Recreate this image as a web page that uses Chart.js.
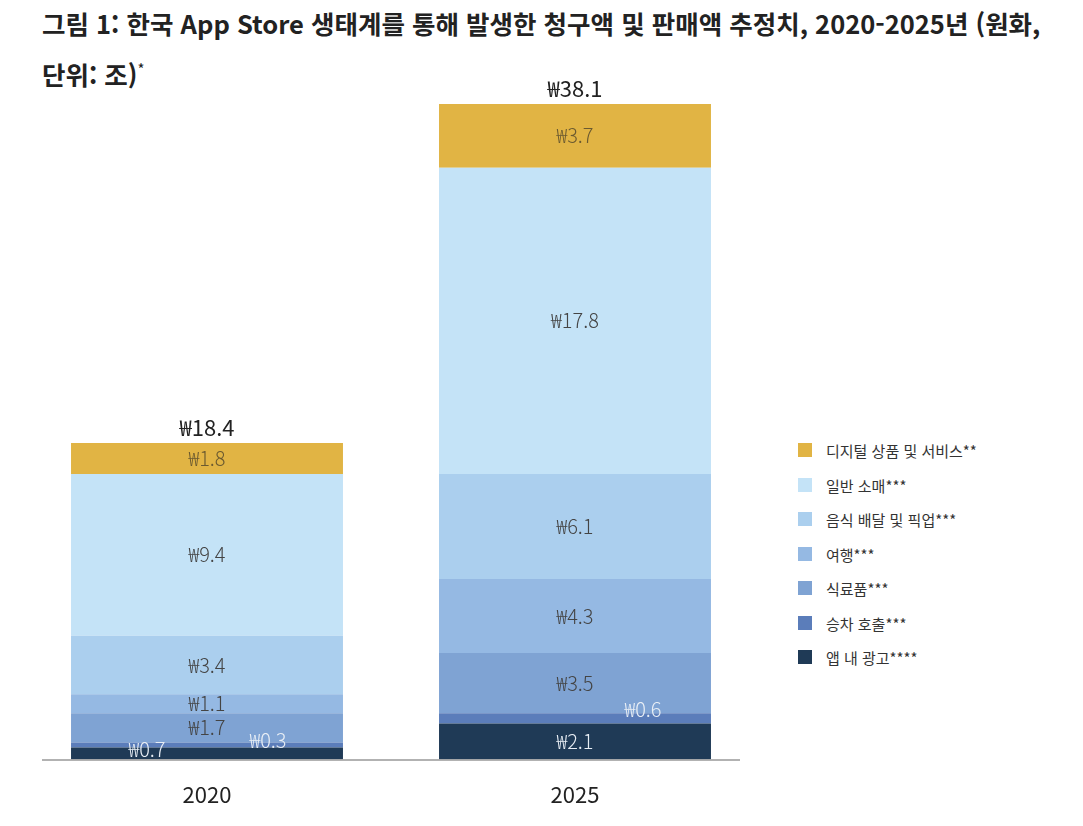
<!DOCTYPE html>
<html lang="ko">
<head>
<meta charset="UTF-8">
<script src="https://cdn.jsdelivr.net/npm/chart.js"></script>
<style>
  body { margin: 0; width: 1083px; height: 826px; background: #fff; font-family: "Noto Sans CJK KR", "Noto Sans", sans-serif; position: relative; overflow: hidden; }
  h1 { position: absolute; left: 42px; top: 0px; width: 1020px; margin: 0; font-size: 25.5px; line-height: 46px; font-weight: 700; color: #222; }
  h1 sup { font-size: 15px; font-weight: 400; }
  #wrap { position: absolute; left: 0; top: 60px; width: 760px; height: 780px; }
  #legend { position: absolute; left: 798px; top: 440px; font-size: 15px; color: #333; }
  #legend div { height: 34.5px; display: flex; align-items: flex-start; }
  #legend span.sw { width: 14px; height: 14px; margin-right: 14px; margin-top: 3px; }
</style>
</head>
<body>
<h1>그림 1: 한국 App Store 생태계를 통해 발생한 청구액 및 판매액 추정치, 2020-2025년 (원화, 단위: 조)<sup>*</sup></h1>
<div id="wrap"><canvas id="c"></canvas></div>
<div id="legend"></div>
<script>
const years = ['2020', '2025'];
const seriesNames = ['앱 내 광고****', '승차 호출***', '식료품***', '여행***', '음식 배달 및 픽업***', '일반 소매***', '디지털 상품 및 서비스**'];
const adsVals = [0.7, 2.1];
const rideVals = [0.3, 0.6];
const groceryVals = [1.7, 3.5];
const travelVals = [1.1, 4.3];
const foodVals = [3.4, 6.1];
const retailVals = [9.4, 17.8];
const digitalVals = [1.8, 3.7];
const totals = [18.4, 38.1];

const colors = ['#1f3a56', '#5b7dba', '#7fa3d3', '#95b9e3', '#abcfee', '#c4e3f7', '#e1b444'];
const labelColors = ['#e8eef5', '#e8eef5', '#444', '#444', '#444', '#444', '#6b5a30'];
const allVals = [adsVals, rideVals, groceryVals, travelVals, foodVals, retailVals, digitalVals];

const legend = document.getElementById('legend');
for (let i = seriesNames.length - 1; i >= 0; i--) {
  legend.innerHTML += `<div><span class="sw" style="background:${colors[i]}"></span>${seriesNames[i]}</div>`;
}

const labelPlugin = {
  id: 'labels',
  afterDatasetsDraw(chart) {
    const ctx = chart.ctx;
    ctx.save();
    // axis line
    const yb = chart.scales.y.getPixelForValue(0);
    ctx.strokeStyle = '#999';
    ctx.lineWidth = 1.5;
    ctx.beginPath(); ctx.moveTo(42, yb + 0.5); ctx.lineTo(740, yb + 0.5); ctx.stroke();

    ctx.textAlign = 'center';
    ctx.textBaseline = 'middle';
    chart.data.datasets.forEach((ds, di) => {
      chart.getDatasetMeta(di).data.forEach((bar, i) => {
        const v = ds.data[i];
        let x = bar.x, y = (bar.y + bar.base) / 2;
        ctx.font = '300 20px "Noto Sans CJK KR", sans-serif';
        ctx.fillStyle = labelColors[di];
        if (di === 0 && i === 0) { x = bar.x - 60; y = bar.y + 2; }
        if (di === 1 && i === 0) { x = bar.x + 61; y = bar.y - 2; }
        if (di === 1 && i === 1) { x = bar.x + 68; y = bar.y - 4; }
        ctx.fillText('₩' + v, x, y);
      });
    });
    const top = chart.getDatasetMeta(chart.data.datasets.length - 1).data;
    ctx.font = '400 22px "Noto Sans CJK KR", sans-serif';
    ctx.fillStyle = '#222';
    ctx.textBaseline = 'bottom';
    top.forEach((bar, i) => ctx.fillText('₩' + totals[i], bar.x, bar.y - 4));
    ctx.restore();
  }
};

new Chart(document.getElementById('c'), {
  type: 'bar',
  data: {
    labels: years,
    datasets: allVals.map((d, i) => ({
      label: seriesNames[i], data: d, backgroundColor: colors[i],
      categoryPercentage: 0.739, barPercentage: 1, borderWidth: 0
    }))
  },
  options: {
    responsive: true, maintainAspectRatio: false, animation: false,
    layout: { padding: { left: 23, right: 1, top: 44, bottom: 10 } },
    plugins: { legend: { display: false }, tooltip: { enabled: false } },
    scales: {
      x: {
        stacked: true,
        grid: { display: false, drawTicks: false },
        border: { display: false },
        ticks: { color: '#222', font: { size: 22, family: '"Noto Sans CJK KR", sans-serif' }, padding: 22 }
      },
      y: { stacked: true, display: false, min: 0, max: 38.1 }
    }
  },
  plugins: [labelPlugin]
});
</script>
</body>
</html>
